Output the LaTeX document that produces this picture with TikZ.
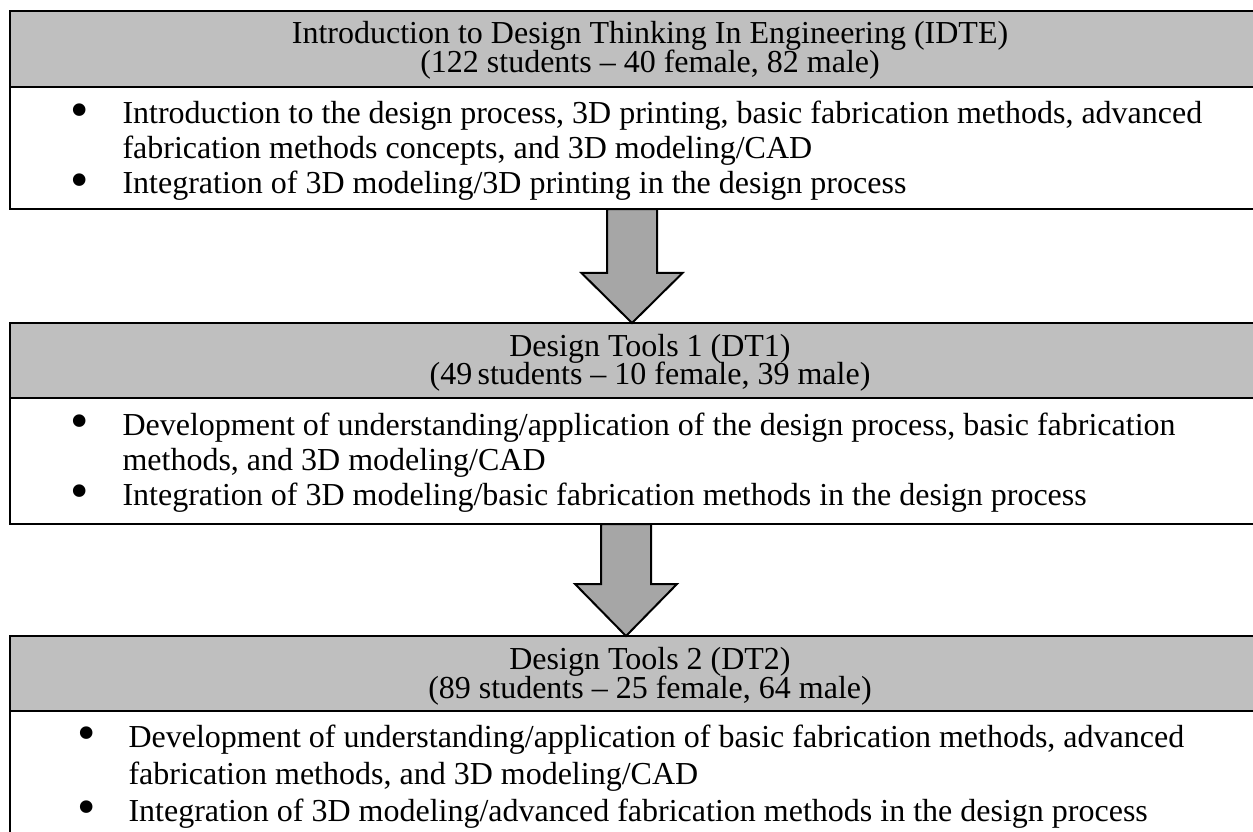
\documentclass[tikz,border=0pt]{standalone}
\usepackage{fontspec}
\setmainfont{Liberation Serif}
\usetikzlibrary{calc}
\definecolor{hdrgray}{HTML}{BFBFBF}
\definecolor{arrgray}{HTML}{A6A6A6}
\begin{document}
\begin{tikzpicture}[x=0.4pt,y=-0.4pt,
  font=\fontsize{12.8}{15}\selectfont,
  hdr/.style={draw=black, line width=0.8pt, fill=hdrgray, anchor=north west, minimum width=512pt, inner sep=0pt, outer sep=0pt},
  bodybox/.style={draw=black, line width=0.8pt, fill=white, anchor=north west, minimum width=512pt, inner sep=0pt, outer sep=0pt},
  txt/.style={anchor=base, inner sep=0pt},
  itm/.style={anchor=base west, inner sep=0pt},
  bul/.style={anchor=base, inner sep=0pt, yshift=-1.3pt, font=\fontsize{21}{21}\selectfont},
  bigarrow/.style={draw=black, line width=0.8pt, fill=arrgray, line join=miter}]
\useasboundingbox (0,0) rectangle (1253,832);
\clip (0,0) rectangle (1253,832);
% box 1
\node[hdr, minimum height=30.4pt] (h1) at (10,11) {};
\node[bodybox, minimum height=48.8pt] (b1) at (h1.south west) {};
% box 2
\node[hdr, minimum height=30pt] (h2) at (10,323) {};
\node[bodybox, minimum height=50.4pt] (b2) at (h2.south west) {};
% box 3
\node[hdr, minimum height=30pt] (h3) at (10,636) {};
\node[bodybox, minimum height=60pt] (b3) at (h3.south west) {};
% arrows
\coordinate (a1s) at ($(b1.south west)+(622,0)$);
\coordinate (a1t) at ($(h2.north west)+(622,0)$);
\draw[bigarrow] ($(a1s)+(-25,0)$) -- ($(a1s)+(25,0)$) -- ($(a1t)+(25,-50)$) -- ($(a1t)+(50.5,-50)$) -- (a1t) -- ($(a1t)+(-50.5,-50)$) -- ($(a1t)+(-25,-50)$) -- cycle;
\coordinate (a2s) at ($(b2.south west)+(616,0)$);
\coordinate (a2t) at ($(h3.north west)+(616,0)$);
\draw[bigarrow] ($(a2s)+(-25,0)$) -- ($(a2s)+(25,0)$) -- ($(a2t)+(25,-52)$) -- ($(a2t)+(51,-52)$) -- (a2t) -- ($(a2t)+(-51,-52)$) -- ($(a2t)+(-25,-52)$) -- cycle;
% header texts
\node[txt] (t1a) at (650,44) {Introduction to Design Thinking In Engineering (IDTE)};
\node[txt] (t1b) at (650,73) {(122 students – 40 female, 82 male)};
\node[txt] (t2a) at (650,356) {Design Tools 1 (DT1)};
\node[txt] (t2b) at (650,385) {(49\,students – 10 female, 39 male)};
\node[txt] (t3a) at (650,669) {Design Tools 2 (DT2)};
\node[txt] (t3b) at (650,698) {(89 students – 25 female, 64 male)};
% body 1
\node[bul] (u11) at (80,124) {•};
\node[itm] (l11) at (122,124) {Introduction to the design process, 3D printing, basic fabrication methods, advanced};
\node[itm] (l12) at (122,159) {fabrication methods concepts, and 3D modeling/CAD};
\node[bul] (u12) at (80,194) {•};
\node[itm] (l13) at (122,194) {Integration of 3D modeling/3D printing in the design process};
% body 2
\node[bul] (u21) at (80,435) {•};
\node[itm] (l21) at (122,435) {Development of understanding/application of the design process, basic fabrication};
\node[itm] (l22) at (122,470) {methods, and 3D modeling/CAD};
\node[bul] (u22) at (80,505) {•};
\node[itm] (l23) at (122,505) {Integration of 3D modeling/basic fabrication methods in the design process};
% body 3
\node[bul] (u31) at (87,747) {•};
\node[itm] (l31) at (128,747) {Development of understanding/application of basic fabrication methods, advanced};
\node[itm] (l32) at (128,784) {fabrication methods, and 3D modeling/CAD};
\node[bul] (u32) at (87,821) {•};
\node[itm] (l33) at (128,821) {Integration of 3D modeling/advanced fabrication methods in the design process};
\end{tikzpicture}
\end{document}
